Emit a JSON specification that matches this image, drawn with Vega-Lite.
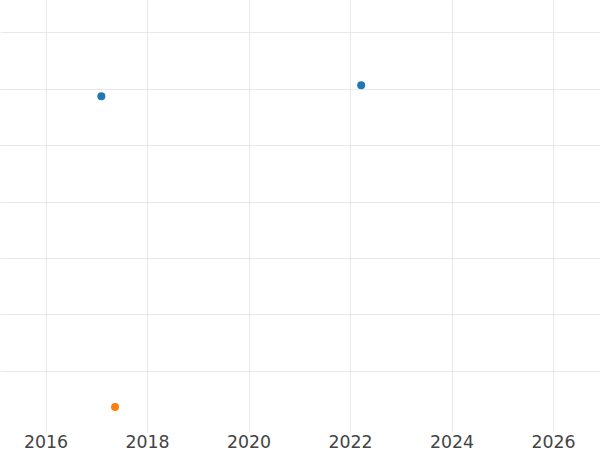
{
  "$schema": "https://vega.github.io/schema/vega-lite/v6.json",
  "width": 600,
  "height": 432,
  "autosize": "none",
  "padding": {"left": 0, "top": 0, "right": 0, "bottom": 18},
  "background": "white",
  "config": {"view": {"stroke": null}},
  "data": {
    "values": [
      {"year": 2017.10, "value": 5.865, "series": "A"},
      {"year": 2022.22, "value": 6.06, "series": "A"},
      {"year": 2017.37, "value": 0.356, "series": "B"}
    ]
  },
  "mark": {"type": "circle", "size": 64, "opacity": 1},
  "encoding": {
    "x": {
      "field": "year",
      "type": "quantitative",
      "scale": {"domain": [2015.103, 2026.926], "nice": false, "zero": false},
      "axis": {
        "title": null,
        "values": [2016, 2018, 2020, 2022, 2024, 2026],
        "format": "d",
        "ticks": false,
        "domain": false,
        "grid": true,
        "gridColor": "#e8e8e8",
        "gridWidth": 1,
        "labelFont": "DejaVu Sans",
        "labelFontSize": 17.33,
        "labelColor": "#444444",
        "labelPadding": 1,
        "labelFlush": false
      }
    },
    "y": {
      "field": "value",
      "type": "quantitative",
      "scale": {"domain": [-0.087, 7.573], "nice": false, "zero": false},
      "axis": {
        "title": null,
        "values": [1, 2, 3, 4, 5, 6, 7],
        "labels": false,
        "ticks": false,
        "domain": false,
        "grid": true,
        "gridColor": "#e8e8e8",
        "gridWidth": 1
      }
    },
    "color": {
      "field": "series",
      "type": "nominal",
      "scale": {"domain": ["A", "B"], "range": ["#1f77b4", "#ff7f0e"]},
      "legend": null
    }
  }
}
